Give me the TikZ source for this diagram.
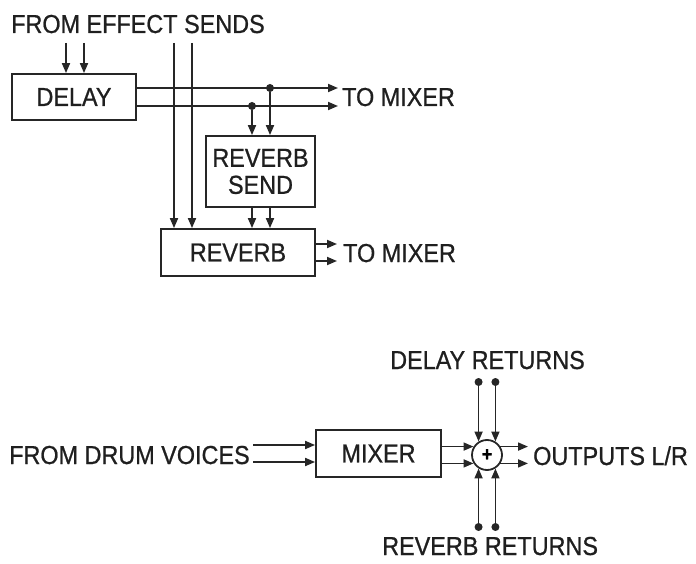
\documentclass[tikz,border=0pt]{standalone}
\usepackage{fontspec}
\setmainfont[FakeStretch=0.9,FakeBold=0.8]{Liberation Sans}
\usetikzlibrary{arrows.meta,calc}
\newcommand\lbfont{\fontsize{26}{27}\selectfont}
\tikzset{
  wire/.style={line width=1.8pt, draw=black!85},
  arr/.style={wire, -{Triangle[length=10pt,width=8pt]}},
  box/.style={draw=black!85, line width=1.8pt, rectangle, inner sep=0pt, font=\lbfont, text=black!88},
  lbl/.style={inner sep=0pt, font=\lbfont, text=black!88},
  dotc/.style={circle, fill=black!85, inner sep=0pt, minimum size=8pt},
  sumc/.style={draw=black!85, circle, line width=1.8pt, inner sep=0pt, minimum size=30pt},
}
\begin{document}
\begin{tikzpicture}[x=1pt,y=-1pt]
\useasboundingbox (0,0) rectangle (696,564);

% ---------- upper part ----------
\node[lbl, anchor=base west] (fes) at (11,33) {FROM EFFECT SENDS};
\node[box, minimum width=124pt, minimum height=46pt] (delay) at (74,97) {DELAY};
\node[box, minimum width=109pt, minimum height=71pt, align=center, font=\fontsize{26}{27}\selectfont] (rsend) at (260.5,171.5) {REVERB\\SEND};
\node[box, minimum width=154pt, minimum height=47pt] (reverb) at (238,252.5) {REVERB};

\coordinate (s1) at (66,43);
\coordinate (s2) at (84,43);
\coordinate (s3) at (174,43);
\coordinate (s4) at (192,43);
\draw[arr] (s1) -- (s1 |- delay.north);
\draw[arr] (s2) -- (s2 |- delay.north);
\draw[arr] (s3) -- (s3 |- reverb.north);
\draw[arr] (s4) -- (s4 |- reverb.north);

\coordinate (t1) at (338,88);
\coordinate (t2) at (338,106);
\draw[arr] (delay.east |- t1) -- (t1);
\draw[arr] (delay.east |- t2) -- (t2);
\node[dotc] (d1) at (270,88) {};
\node[dotc] (d2) at (252,106) {};
\draw[arr] (d1) -- (d1 |- rsend.north);
\draw[arr] (d2) -- (d2 |- rsend.north);
\draw[arr] (d1 |- rsend.south) -- (d1 |- reverb.north);
\draw[arr] (d2 |- rsend.south) -- (d2 |- reverb.north);

\coordinate (r1) at (337,244);
\coordinate (r2) at (337,261);
\draw[arr] (reverb.east |- r1) -- (r1);
\draw[arr] (reverb.east |- r2) -- (r2);

\node[lbl, anchor=base west] (tm1) at (342,106) {TO MIXER};
\node[lbl, anchor=base west] (tm2) at (343,262) {TO MIXER};

% ---------- lower part ----------
\node[lbl, anchor=base west] (fdv) at (9,464) {FROM DRUM VOICES};
\node[box, minimum width=125pt, minimum height=47pt] (mixer) at (378.5,453.5) {MIXER};
\node[sumc] (sum) at (487,455) {\fontsize{20}{20}\selectfont\bfseries +};

\coordinate (m1) at (253,445);
\coordinate (m2) at (253,462);
\draw[arr] (m1) -- (m1 -| mixer.west);
\draw[arr] (m2) -- (m2 -| mixer.west);
\draw[arr] (mixer.east |- sum.148) -- (sum.148);
\draw[arr] (mixer.east |- sum.212) -- (sum.212);

\coordinate (o) at (528,455);
\draw[arr] (sum.32) -- (sum.32 -| o);
\draw[arr] (sum.328) -- (sum.328 -| o);
\node[lbl, anchor=base west] (out) at (533,465) {OUTPUTS L/R};

\coordinate (rt) at (487,382);
\coordinate (rb) at (487,527);
\node[dotc] (dr1) at (sum.122 |- rt) {};
\node[dotc] (dr2) at (sum.58 |- rt) {};
\node[dotc] (dv1) at (sum.238 |- rb) {};
\node[dotc] (dv2) at (sum.302 |- rb) {};
\draw[arr] (dr1) -- (sum.122);
\draw[arr] (dr2) -- (sum.58);
\draw[arr] (dv1) -- (sum.238);
\draw[arr] (dv2) -- (sum.302);

\node[lbl, anchor=base west] (dret) at (390,369) {DELAY RETURNS};
\node[lbl, anchor=base west] (rret) at (382,555) {REVERB RETURNS};
\end{tikzpicture}
\end{document}
